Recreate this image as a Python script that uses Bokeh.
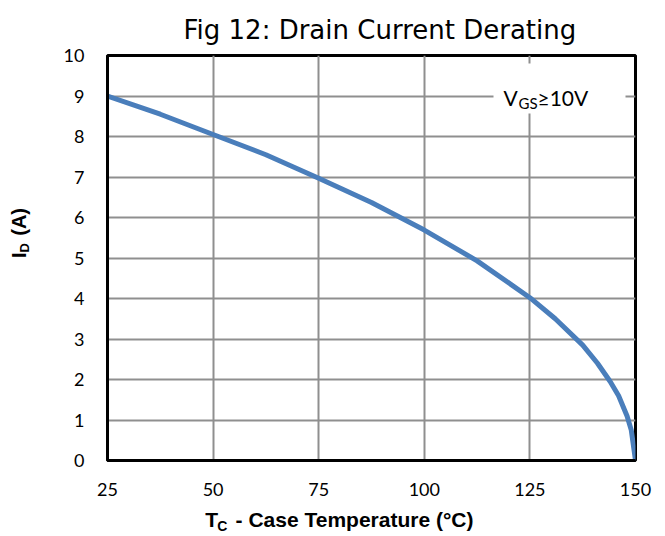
from bokeh.plotting import figure
from bokeh.models import Range1d, FixedTicker, Label, BoxAnnotation, LinearAxis
from bokeh.embed import file_html
from bokeh.resources import INLINE

# ---- data ----
temp_c = [25, 37.5, 50, 62.5, 75, 87.5, 100, 112.5, 125, 131, 137.5, 141, 144, 146, 148, 149, 150]
drain_a = [9.0, 8.55, 8.05, 7.55, 6.97, 6.37, 5.69, 4.93, 4.02, 3.5, 2.85, 2.4, 1.95, 1.6, 1.1, 0.75, 0.0]
x_ticks = [25, 50, 75, 100, 125, 150]
y_ticks = [0, 1, 2, 3, 4, 5, 6, 7, 8, 9, 10]
title_text = "Fig 12: Drain Current Derating"
x_title = ("T", "C", "- Case Temperature (°C)")   # main, subscript, rest
y_title = ("I", "D", "(A)")
vgs_text = ("V", "GS", "≥10V")

# ---- layout (figure pixels) ----
W, H = 657, 536
FL, FR, FT, FB = 107, 635, 55, 460
X0, X1, Y0, Y1 = 25, 150, 0, 10
NB = "\u00a0"

def dx(px):
    return round(X0 + (px - FL) * (X1 - X0) / (FR - FL), 3)

def dy(py):
    return round(Y0 + (FB - py) * (Y1 - Y0) / (FB - FT), 3)

p = figure(width=W, height=H, output_backend="svg", toolbar_location=None,
           x_range=Range1d(X0, X1), y_range=Range1d(Y0, Y1),
           min_border_left=FL, min_border_right=W - FR,
           min_border_top=FT, min_border_bottom=H - FB)
p.background_fill_color = "white"
p.border_fill_color = "white"
p.outline_line_color = "black"
p.outline_line_width = 3

xa, ya = p.xaxis[0], p.yaxis[0]
for ax in (xa, ya):
    ax.axis_line_color = "black"
    ax.axis_line_width = 3
    ax.major_tick_line_color = None
    ax.minor_tick_line_color = None
    ax.major_tick_out = 0
    ax.major_tick_in = 0
    ax.minor_tick_out = 0
    ax.minor_tick_in = 0
    ax.major_label_text_font = "Lato"
    ax.major_label_text_font_size = "18px"
    ax.major_label_text_color = "black"
    ax.axis_label_text_font = "Liberation Sans"
    ax.axis_label_text_font_style = "bold"
    ax.axis_label_text_color = "black"

xa.ticker = FixedTicker(ticks=x_ticks)
ya.ticker = FixedTicker(ticks=y_ticks)
xa.major_label_standoff = 22
ya.major_label_standoff = 23

# axis titles; non-breaking spaces leave room for the subscripts and shift the centre
xa.axis_label = x_title[0] + NB * 3 + x_title[2] + NB * 11
xa.axis_label_text_font_size = "21px"
xa.axis_label_standoff = 9
ya.axis_label = NB * 9 + y_title[0] + NB * 3 + y_title[2]
ya.axis_label_text_font_size = "20px"
ya.axis_label_standoff = 31

p.xgrid.ticker = FixedTicker(ticks=x_ticks)
p.ygrid.ticker = FixedTicker(ticks=y_ticks)
for g in (p.xgrid, p.ygrid):
    g.grid_line_color = "#8f8f8f"
    g.grid_line_width = 2

p.line(temp_c, drain_a, line_color="#4A7EBB", line_width=5)

# ---- title ----
p.title.text = title_text
p.title.text_font = "DejaVu Sans"
p.title.text_font_size = "26px"
p.title.text_font_style = "normal"
p.title.text_color = "black"
p.title.align = "left"
p.title.offset = 76
p.title.standoff = 22

# ---- subscripts: label-only axes stacked outside the main axes ----
def sub_axis(side, tick, text, size, standoff, orient=None):
    ax = LinearAxis(ticker=FixedTicker(ticks=[tick]), major_label_overrides={tick: text})
    ax.axis_line_color = None
    ax.major_tick_line_color = None
    ax.minor_tick_line_color = None
    ax.major_tick_out = 0
    ax.major_tick_in = 0
    ax.minor_tick_out = 0
    ax.minor_tick_in = 0
    ax.major_label_standoff = standoff
    ax.major_label_text_font = "Liberation Sans"
    ax.major_label_text_font_style = "bold"
    ax.major_label_text_font_size = size
    ax.major_label_text_color = "black"
    if orient is not None:
        ax.major_label_orientation = orient
    p.add_layout(ax, side)

sub_axis("below", dx(221.9), x_title[1], "14px", -16)
sub_axis("left", dy(247.3), y_title[1], "13px", -28, "parallel")

# ---- V_GS annotation ----
p.add_layout(BoxAnnotation(left=dx(493), right=dx(625), top=dy(63), bottom=dy(113),
                           fill_color="white", fill_alpha=1.0, line_color=None))
base = dict(text_font="Lato", text_color="black", text_baseline="alphabetic", text_align="left")
p.add_layout(Label(x=dx(503), y=dy(97), text=vgs_text[0], text_font_size="21px", **base))
p.add_layout(Label(x=dx(518), y=dy(103), text=vgs_text[1], text_font_size="15px", **base))
p.add_layout(Label(x=dx(537), y=dy(97), text=vgs_text[2], text_font_size="21px", **base))

open("out.html", "w").write(file_html(p, INLINE))
